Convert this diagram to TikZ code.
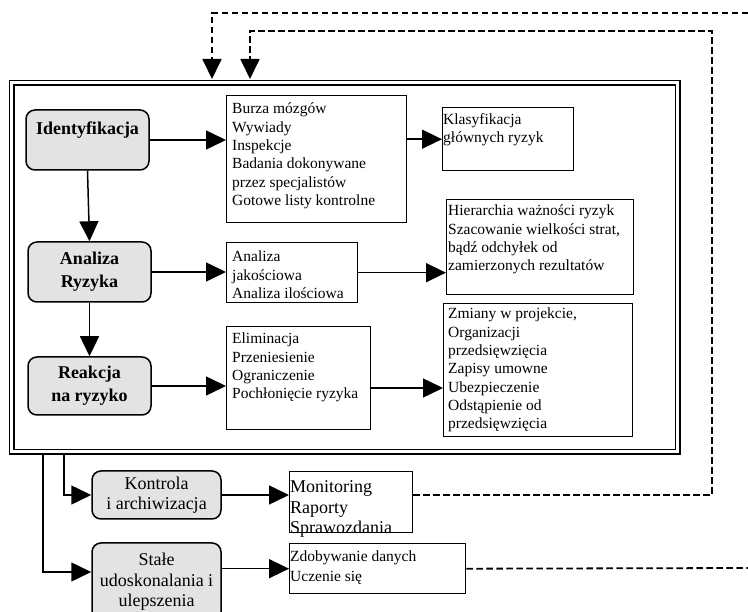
\documentclass[tikz,border=0pt]{standalone}
\usepackage{fontspec}
\setmainfont{Liberation Serif}
\usetikzlibrary{arrows.meta}
\begin{document}
\begin{tikzpicture}[x=1pt,y=-1pt,
  mainbox/.style={draw, line width=1.5pt, rounded corners=9pt, fill=gray!22, align=center, inner sep=0pt, font=\bfseries\fontsize{18}{23}\selectfont},
  subbox/.style={draw, line width=1.5pt, rounded corners=9pt, fill=gray!22, align=center, inner sep=0pt, font=\fontsize{18}{20.5}\selectfont},
  txtbox/.style={draw, line width=1.4pt, inner sep=0pt, anchor=north west},
  txt/.style={align=left, inner sep=0pt, anchor=north west, font=\fontsize{15.5}{18.3}\selectfont},
  arr/.style={line width=1.5pt, -{Triangle[length=20pt,width=19pt]}},
  dline/.style={line width=1.8pt, dash pattern=on 6.5pt off 3.5pt, -{Triangle[length=20pt,width=19pt]}},
  dplain/.style={line width=1.8pt, dash pattern=on 6.5pt off 3.5pt}]
\useasboundingbox (0,0) rectangle (748,612);

% outer double frame
\node[draw, line width=1.5pt, double, double distance=2.6pt, minimum width=666pt, minimum height=369pt, inner sep=0pt, anchor=north west] (frame) at (11,82) {};

% main steps
\node[mainbox, minimum width=123pt, minimum height=60pt] (ident) at (87.5,140) {Identyfikacja\\\mbox{}};
\node[mainbox, minimum width=123pt, minimum height=60pt] (anal) at (89.5,272) {Analiza\\Ryzyka};
\node[mainbox, minimum width=123pt, minimum height=58pt] (reak) at (89.5,386) {Reakcja\\na ryzyko};

% text boxes
\node[txtbox, minimum width=180pt, minimum height=127pt] (burza) at (226,95) {};
\node[txt] (burzaT) at (232,103) {Burza mózgów\\Wywiady\\Inspekcje\\Badania dokonywane\\przez specjalistów\\Gotowe listy kontrolne};

\node[txtbox, minimum width=131pt, minimum height=63pt] (klas) at (442,107) {};
\node[txt] (klasT) at (443,113) {Klasyfikacja\\głównych ryzyk};

\node[txtbox, minimum width=131pt, minimum height=60pt] (jak) at (226,242) {};
\node[txt] (jakT) at (232,251) {Analiza\\jakościowa\\Analiza ilościowa};

\node[txtbox, minimum width=187pt, minimum height=95pt] (hier) at (446,199) {};
\node[txt] (hierT) at (448,205) {Hierarchia ważności ryzyk\\Szacowanie wielkości strat,\\bądź odchyłek od\\zamierzonych rezultatów};

\node[txtbox, minimum width=144pt, minimum height=103pt] (elim) at (226,326) {};
\node[txt] (elimT) at (232,333) {Eliminacja\\Przeniesienie\\Ograniczenie\\Pochłonięcie ryzyka};

\node[txtbox, minimum width=189pt, minimum height=133pt] (zm) at (443,303) {};
\node[txt] (zmT) at (448,308) {Zmiany w projekcie,\\Organizacji\\przedsięwzięcia\\Zapisy umowne\\Ubezpieczenie\\Odstąpienie od\\przedsięwzięcia};

% lower part
\node[subbox, minimum width=129pt, minimum height=48pt] (kontr) at (156.5,495) {Kontrola\\i archiwizacja};
\node[subbox, minimum width=129pt, minimum height=78pt] (stale) at (156.5,582) {Stałe\\udoskonalania i\\ulepszenia};

\node[txtbox, minimum width=123pt, minimum height=61pt] (mon) at (289,471) {};
\node[txt, font=\fontsize{18}{20.5}\selectfont] (monT) at (290,480.5) {Monitoring\\Raporty\\Sprawozdania};

\node[txtbox, minimum width=176pt, minimum height=50pt] (zdob) at (289,543) {};
\node[txt, font=\fontsize{15.5}{20}\selectfont] (zdobT) at (290,551) {Zdobywanie danych\\Uczenie się};

% solid connectors
\draw[arr] (ident.east) -- (ident.east -| burza.west);
\draw[arr] (klas.west -| burza.east) -- (klas.west);
\draw[arr] (ident.south) -- (anal.north);
\draw[arr] (anal.east) -- (anal.east -| jak.west);
\draw[arr] (jak.east) -- (jak.east -| hier.west);
\draw[arr] (anal.south) -- (reak.north);
\draw[arr] (reak.east) -- (reak.east -| elim.west);
\draw[arr] ([yshift=-2pt]reak.east -| elim.east) -- ([yshift=-2pt]reak.east -| zm.west);
\draw[arr] ([xshift=32pt,yshift=-3pt]frame.south west) |- ([yshift=10pt]stale.west);
\draw[arr] ([xshift=53pt,yshift=-3pt]frame.south west) |- (kontr.west);
\draw[arr] (kontr.east) -- (kontr.east -| mon.west);
\draw[arr] (zdob.west -| stale.east) -- (zdob.west);

% dashed feedback
\coordinate (in1) at (212,79);
\coordinate (in2) at (250,79);
\coordinate (e1) at (748,13);
\coordinate (d1) at (712,31);
\coordinate (e2) at (748,568);
\draw[dline] (e1) -| (in1);
\draw[dline] (kontr.east -| mon.east) -| (d1) -| (in2);
\draw[dplain] (zdob.east) -- (e2);
\end{tikzpicture}
\end{document}
